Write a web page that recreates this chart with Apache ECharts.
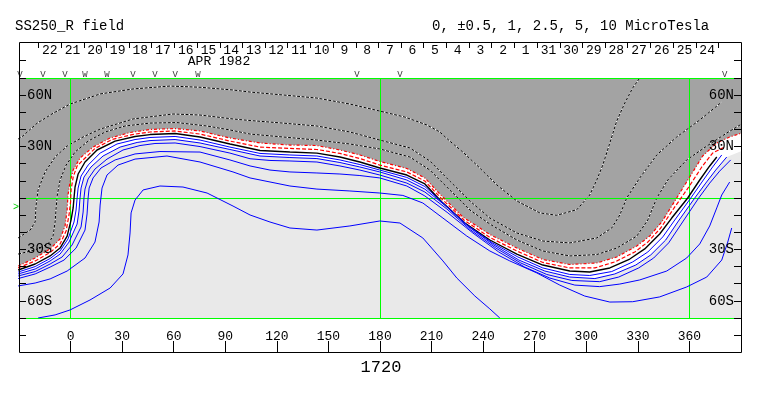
<!DOCTYPE html>
<html><head><meta charset="utf-8">
<script src="https://cdn.jsdelivr.net/npm/echarts@6/dist/echarts.min.js"></script>
<style>html,body{margin:0;padding:0;background:#fff}#c{width:763px;height:396px}</style>
</head><body><div id="c"></div>
<script>
// ---- axis / tick data ----
const lonTicks = [0,30,60,90,120,150,180,210,240,270,300,330,360];
const latTicks = [-70,-60,-50,-40,-30,-20,-10,0,10,20,30,40,50,60,70];
const latLabelVals = [60,30,-30,-60];
const guideLon = [0,180,360];
const guideLat = [-70,0,70];
const dayTickLon = [-18.7,-5.5,7.7,20.8,34.0,47.2,60.4,73.6,86.8,100.0,113.1,126.3,139.5,152.7,165.9,179.1,192.3,205.4,218.6,231.8,245.0,258.2,271.4,284.6,297.7,310.9,324.1,337.3,350.5,363.7,376.9];
const dayLabels = ['22','21','20','19','18','17','16','15','14','13','12','11','10','9','8','7','6','5','4','3','2','1','31','30','29','28','27','26','25','24'];
const markerLon = [-29.4,-16.0,-3.2,8.4,21.2,36.3,49.1,60.8,74.1,166.6,191.6,380.5];
const markerText = ['V','V','V','W','W','V','V','V','W','V','V','V'];
const markerLat = 71.8;

// ---- contour lines [lon, lat] ----
const negEdge = [[-30.5,-39.7],[-20.6,-35.0],[-11.9,-29.7],[-6.1,-23.9],[-3.2,-16.3],[-2.0,-7.0],[-1.5,1.75],[-0.3,9.3],[1.5,16.3],[5.5,23.3],[13.1,29.7],[23.0,35.0],[34.6,38.2],[46.2,40.0],[60.8,40.5],[75.3,39.1],[92.7,35.0],[110.2,32.1],[127.6,30.9],[143.3,30.6],[156.7,28.0],[168.3,25.1],[179.9,21.3],[195.6,17.2],[206.1,11.7],[214.8,2.3],[228.2,-11.1],[243.9,-21.3],[259.6,-29.2],[274.7,-35.9],[290.4,-38.8],[306.1,-37.9],[317.7,-34.4],[329.4,-28.0],[336.9,-22.2],[343.9,-14.0],[352.6,0],[360.2,12.3],[367.7,24.5],[375.9,32.1],[383.4,35.6],[390.4,37.9]];
const posHalf = [[-30.5,-40.8],[-20.6,-36.7],[-11.9,-31.8],[-6.1,-26.8],[-2.6,-19.2],[-0.9,-9.9],[0,-2.3],[0.3,4.7],[1.5,12.2],[3.8,18.7],[7.3,22.2],[14.2,28.9],[24.1,34.1],[35.8,37.0],[46.2,38.5],[60.8,39.1],[75.3,37.3],[92.7,33.2],[110.2,29.7],[127.6,28.9],[143.3,28.3],[156.7,26.0],[168.3,23.0],[179.9,19.2],[195.6,15.2],[206.1,9.9],[215.4,0],[228.8,-12.8],[243.9,-23.0],[259.6,-30.9],[274.7,-37.6],[290.4,-40.8],[305.0,-40.8],[316.6,-37.3],[328.2,-31.5],[335.8,-25.7],[343.3,-17.5],[351.5,-5.2],[359.6,6.4],[367.2,18.1],[373.5,26.2],[379.9,29.5]];
const zeroLine = [[-30.5,-42.0],[-20.6,-38.5],[-11.9,-33.8],[-6.1,-29.2],[-2.0,-22.2],[0.3,-12.8],[1.5,-5.8],[2.0,0],[2.6,6.4],[4.4,14.0],[8.4,21.0],[15.4,28.0],[25.9,33.2],[37.5,35.9],[46.2,37.0],[60.8,37.6],[75.3,35.6],[92.7,31.5],[110.2,27.7],[127.6,26.8],[143.3,26.2],[156.7,23.9],[168.3,21.0],[179.9,17.5],[195.6,13.4],[206.1,8.2],[216.0,-2.3],[229.4,-14.6],[243.9,-24.5],[259.6,-32.7],[274.7,-39.1],[290.4,-42.6],[302.0,-43.2],[313.7,-40.8],[325.3,-35.6],[334.0,-29.7],[342.7,-21.0],[349.7,-11.7],[359.0,0],[366.0,10.5],[371.8,18.7],[375.9,23.9]];
const pos1 = [[-30.5,-43.2],[-20.6,-40.0],[-11.9,-35.3],[-6.1,-30.9],[-1.5,-23.9],[2.0,-14.0],[3.2,-7.0],[3.8,0],[4.4,5.8],[6.1,12.8],[10.2,19.2],[17.2,26.2],[27.0,31.5],[37.5,34.1],[46.2,35.3],[60.8,35.9],[75.3,33.8],[92.7,29.7],[110.2,26.0],[127.6,25.1],[143.3,24.5],[156.7,22.2],[168.3,19.5],[179.9,16.3],[195.6,12.0],[206.1,6.7],[217.2,-3.5],[230.5,-15.7],[245.1,-26.0],[260.2,-34.4],[274.7,-40.8],[290.4,-44.6],[302.0,-45.2],[314.8,-42.9],[327.0,-37.3],[335.8,-31.5],[344.5,-22.7],[351.5,-12.8],[360.8,0],[367.7,9.9],[373.5,18.1],[378.8,25.1]];
const pos2 = [[-30.5,-44.3],[-20.6,-41.4],[-11.9,-36.7],[-6.1,-32.7],[-0.9,-25.7],[3.8,-15.2],[4.9,-7.6],[5.5,0],[6.1,5.8],[7.8,12.2],[11.9,18.1],[18.9,24.5],[28.8,29.7],[38.7,32.4],[46.2,33.5],[60.8,34.1],[75.3,32.1],[92.7,28.3],[110.2,24.5],[127.6,23.6],[143.3,23.0],[156.7,20.7],[168.3,18.1],[179.9,15.2],[195.6,10.5],[206.1,5.2],[218.3,-4.7],[231.7,-16.9],[246.2,-27.4],[260.8,-36.2],[275.9,-42.6],[290.4,-46.1],[305.0,-47.0],[316.6,-44.3],[328.8,-39.1],[337.5,-33.2],[346.2,-24.5],[353.2,-14.0],[363.1,0],[369.5,8.7],[375.3,16.3],[381.7,23.9]];
const pos3 = [[-30.5,-45.5],[-20.6,-42.9],[-11.9,-38.5],[-4.9,-34.4],[0.9,-27.4],[6.1,-16.9],[7.3,-8.2],[7.8,0],[8.4,5.2],[10.2,11.1],[14.2,16.9],[21.2,22.7],[30.5,28.0],[40.4,30.6],[49.1,31.8],[60.8,32.1],[75.3,30.0],[92.7,26.2],[104.4,22.9],[116.0,21.9],[127.6,21.6],[143.3,21.0],[156.7,18.7],[168.3,16.3],[179.9,13.4],[195.6,8.7],[206.1,3.5],[218.9,-6.4],[232.8,-18.7],[247.4,-29.2],[261.9,-37.9],[277.0,-44.6],[291.6,-48.1],[307.8,-48.8],[318.9,-46.1],[330.5,-40.8],[339.2,-35.0],[347.9,-26.2],[354.9,-15.7],[365.4,0],[371.8,8.7],[377.6,15.7],[384.0,22.2]];
const pos4 = [[-30.5,-47.0],[-20.6,-44.3],[-11.9,-40.3],[-3.8,-36.2],[3.2,-29.2],[8.4,-18.7],[9.6,-9.3],[10.2,0],[10.8,5.8],[13.1,11.7],[17.7,17.5],[25.9,22.2],[37.5,25.7],[52.0,27.1],[75.3,26.8],[92.7,22.2],[104.4,18.7],[116.0,16.3],[127.6,15.2],[143.3,14.6],[156.7,14.0],[168.3,13.1],[179.9,11.7],[195.6,7.0],[206.1,1.2],[219.5,-8.7],[234.0,-20.4],[249.1,-31.5],[264.2,-40.3],[278.8,-46.7],[293.3,-50.8],[307.8,-51.7],[319.5,-50.2],[331.1,-47.8],[346.8,-42.6],[358.4,-35.0],[366.0,-26.8],[371.8,-16.3],[375.9,-5.8],[378.8,1.75],[383.4,9.3]];
const pos5 = [[-30.5,-51.3],[-20.6,-49.6],[-11.9,-47.2],[-2.0,-42.6],[8.4,-35.0],[14.2,-25.7],[16.6,-14.0],[17.2,-4.1],[18.3,5.8],[21.2,13.4],[27.6,19.2],[37.5,22.7],[56.1,24.5],[75.3,21.0],[94.5,15.2],[104.4,11.7],[127.6,7.0],[143.3,5.2],[162.5,4.1],[179.9,2.9],[193.3,1.5],[204.9,-2.9],[216.6,-11.7],[230.5,-22.2],[243.9,-30.9],[255.5,-36.7],[271.2,-43.7],[284.6,-50.8],[299.1,-57.2],[313.7,-60.7],[327.0,-60.5],[342.7,-57.7],[358.4,-51.9],[370.1,-46.1],[378.8,-36.2],[382.3,-25.7],[384.6,-17.5]];
const pos6 = [[-18.9,-70],[-9.0,-68.2],[-0.3,-65.3],[11.3,-59.5],[23.0,-52.5],[30.5,-44.3],[33.4,-33.2],[34.6,-20.4],[35.2,-8.7],[37.5,-1.2],[42.2,4.7],[52.0,7.0],[65.4,6.4],[79.4,2.9],[94.5,-4.7],[104.4,-9.9],[116.0,-14.0],[127.6,-17.5],[143.3,-18.7],[162.5,-16.3],[179.9,-13.4],[191.6,-14.6],[204.9,-23.3],[216.6,-36.7],[224.7,-46.7],[235.2,-57.2],[243.9,-64.7],[249.7,-70]];
const neg1 = [[-30.5,34.4],[-28.2,35.8],[-19.5,43.6],[-10.2,49.4],[-0.3,54.8],[17.2,60.7],[36.3,63.6],[57.8,65.3],[75.3,64.6],[94.5,63.0],[104.4,61.8],[123.5,60.1],[143.3,58.3],[162.5,54.8],[179.9,50.7],[194.5,47.2],[207.3,42.6],[214.8,38.5],[220.6,33.2],[228.2,26.8],[236.3,19.2],[248.0,7.6],[259.6,-1.75],[273.0,-8.7],[282.8,-10.1],[294.5,-6.8],[302.0,1.75],[306.1,10.5],[309.6,19.2],[313.7,32.1],[317.7,44.9],[322.4,55.4],[327.0,64.2],[331.1,70]];
const neg2 = [[-30.5,-23.3],[-23.5,-18.7],[-20.6,-14.0],[-20.1,-4.7],[-18.9,4.7],[-14.8,15.2],[-9.0,23.9],[-2.0,30.3],[7.3,35.6],[17.2,40.2],[27.0,43.2],[36.3,46.1],[59.6,49.0],[75.3,48.4],[94.5,46.1],[104.4,45.2],[123.5,43.7],[143.3,42.0],[162.5,38.5],[179.9,33.8],[197.4,29.2],[209.0,21.6],[220.6,9.9],[232.3,-1.75],[243.9,-11.7],[259.6,-20.4],[274.7,-25.1],[290.4,-26.2],[306.1,-23.3],[314.8,-17.5],[319.5,-9.9],[323.5,0],[331.1,11.7],[341.0,25.1],[352.6,35.6],[366.0,45.5],[378.8,56.0]];
const neg3 = [[-30.5,-32.7],[-20.6,-30.3],[-13.1,-26.8],[-10.2,-22.2],[-9.0,-14.0],[-8.4,-5.8],[-7.8,1.2],[-6.1,10.5],[-2.6,19.2],[2.6,26.8],[10.2,33.2],[20.1,38.5],[31.7,42.0],[46.2,43.7],[61.9,44.0],[79.4,42.0],[92.7,39.7],[104.4,37.3],[123.5,35.6],[143.3,33.8],[162.5,31.5],[179.9,28.6],[197.4,23.9],[209.0,16.3],[220.6,4.7],[232.3,-7.0],[243.9,-15.2],[259.6,-24.5],[274.7,-30.9],[290.4,-33.8],[306.1,-33.0],[317.7,-29.2],[329.4,-22.2],[335.8,-12.8],[341.0,0],[347.4,10.5],[358.4,22.2],[370.1,30.3],[381.7,37.9],[390.4,43.2]];
const lightEdge = [[-30.5,-44.3],[-20.6,-41.4],[-11.9,-36.7],[-6.1,-32.7],[-0.9,-25.7],[3.8,-15.2],[4.9,-7.6],[5.5,0],[6.1,5.8],[7.8,12.2],[11.9,18.1],[18.9,24.5],[28.8,29.7],[38.7,32.4],[46.2,33.5],[60.8,34.1],[75.3,32.1],[92.7,28.3],[110.2,24.5],[127.6,23.6],[143.3,23.0],[156.7,20.7],[168.3,18.1],[179.9,15.2],[195.6,10.5],[206.1,5.2],[218.3,-4.7],[231.7,-16.9],[246.2,-27.4],[260.8,-36.2],[275.9,-42.6],[290.4,-46.1],[305.0,-47.0],[316.6,-44.3],[328.8,-39.1],[337.5,-33.2],[346.2,-24.5],[353.2,-14.0],[363.1,0],[369.5,8.7],[375.3,16.3],[381.7,23.9],[390.4,27.4]];

const mono = '"Liberation Mono","DejaVu Sans Mono",monospace';
const dayMid = dayLabels.map((d,i)=>(dayTickLon[i]+dayTickLon[i+1])/2);

function ln(data, color, width, type, z){
  return {type:'line', data, symbol:'none', showSymbol:false, smooth:false, silent:true,
    lineStyle:{color, width, type}, z: z||3, animation:false};
}
function fill(data, color){
  return {type:'line', data, symbol:'none', showSymbol:false, silent:true, animation:false,
    lineStyle:{opacity:0, width:0}, areaStyle:{color, opacity:1, origin:'end'}, z:1};
}

const series = [
  fill(lightEdge, '#ffffff'),
  fill(negEdge, '#a3a3a3'),
  {type:'line', data:[], silent:true, z:2, animation:false,
    markLine:{silent:true, symbol:['none','none'], animation:false, label:{show:false},
      lineStyle:{color:'#00ff00', type:'solid', width:1},
      data: guideLon.map(v=>({xAxis:v})).concat(guideLat.map(v=>({yAxis:v})))}},
];
[neg1, neg2, neg3].forEach(d=>{
  series.push(ln(d,'#ffffff',1,'solid',3));
  series.push(ln(d,'#000000',1,[3,1.5],4));
});
series.push(ln(negEdge,'#ff0000',1.2,[3,2,1,2],5));
series.push(ln(posHalf,'#ff0000',1.2,[4,2],5));
series.push(ln(zeroLine,'#000000',1.4,'solid',5));
[pos1,pos2,pos3,pos4,pos5,pos6].forEach(d=>series.push(ln(d,'#0000ff',1,'solid',5)));
series.push({type:'scatter', clip:false, silent:true, animation:false, z:6,
  symbol:'circle', symbolSize:1, itemStyle:{color:'rgba(0,0,0,0)'},
  data: markerLon.map((v,i)=>[v, markerLat, markerText[i]]),
  label:{show:true, position:'inside', formatter:p=>p.data[2], color:'#000', fontFamily:mono, fontSize:9}});

const latFmt = v=> v>0 ? v+'N' : (-v)+'S';
const option = {
  animation:false,
  backgroundColor:'#ffffff',
  grid:{left:19, right:22, top:78, bottom:78, show:true, backgroundColor:'#e9e9e9', borderWidth:0},
  xAxis:[
    {type:'value', min:-30, max:390, show:false, axisLine:{onZero:false}},
    {type:'value', min:-30, max:390, position:'bottom', offset:34, z:20,
      axisLine:{show:false, onZero:false}, splitLine:{show:false},
      axisTick:{show:true, inside:true, length:11, customValues:lonTicks, lineStyle:{color:'#000'}},
      axisLabel:{show:true, inside:true, margin:9, customValues:lonTicks, color:'#000', fontFamily:mono, fontSize:13}},
    {type:'value', min:-30, max:390, position:'top', offset:36, z:20,
      axisLine:{show:false, onZero:false}, splitLine:{show:false},
      axisTick:{show:true, inside:true, length:6, customValues:dayTickLon, lineStyle:{color:'#000'}},
      axisLabel:{show:true, inside:true, margin:2, customValues:dayMid, color:'#000', fontFamily:mono, fontSize:13,
        formatter:(v)=>{let b=0,bd=1e9;dayMid.forEach((m,i)=>{const d=Math.abs(m-v);if(d<bd){bd=d;b=i;}});return dayLabels[b];}}}
  ],
  yAxis:[
    {type:'value', min:-70, max:70, interval:10, position:'left', z:20,
      axisLine:{show:false, onZero:false}, splitLine:{show:false},
      axisTick:{show:true, inside:true, length:7, customValues:latTicks, lineStyle:{color:'#000'}},
      axisLabel:{show:true, inside:true, margin:8, customValues:latLabelVals, color:'#000', fontFamily:mono, fontSize:14, formatter:latFmt}},
    {type:'value', min:-70, max:70, interval:10, position:'right', z:20,
      axisLine:{show:false, onZero:false}, splitLine:{show:false},
      axisTick:{show:true, inside:true, length:7, customValues:latTicks, lineStyle:{color:'#000'}},
      axisLabel:{show:true, inside:true, margin:7, customValues:latLabelVals, color:'#000', fontFamily:mono, fontSize:14, formatter:latFmt}}
  ],
  graphic:[
    {type:'rect', shape:{x:19.5, y:42.5, width:722, height:310}, style:{fill:null, stroke:'#000', lineWidth:1}, z:50, silent:true},
    {type:'line', shape:{x1:19, y1:60.5, x2:26, y2:60.5}, style:{stroke:'#000', lineWidth:1}, z:50},
    {type:'line', shape:{x1:734, y1:60.5, x2:741, y2:60.5}, style:{stroke:'#000', lineWidth:1}, z:50},
    {type:'line', shape:{x1:19, y1:335.5, x2:26, y2:335.5}, style:{stroke:'#000', lineWidth:1}, z:50},
    {type:'line', shape:{x1:734, y1:335.5, x2:741, y2:335.5}, style:{stroke:'#000', lineWidth:1}, z:50},
    {type:'text', left:15, top:19, style:{text:'SS250_R field', font:'14px '+mono, fill:'#000'}, z:50},
    {type:'text', left:432, top:19, style:{text:'0, \u00b10.5, 1, 2.5, 5, 10 MicroTesla', font:'14px '+mono, fill:'#000'}, z:50},
    {type:'text', x:219, y:62, style:{text:'APR 1982', font:'13px '+mono, fill:'#000', align:'center', verticalAlign:'middle'}, z:50},
    {type:'text', x:381, y:367, style:{text:'1720', font:'17px '+mono, fill:'#000', align:'center', verticalAlign:'middle'}, z:50},
    {type:'text', x:16, y:207, style:{text:'>', font:'10px '+mono, fill:'#00cc00', align:'center', verticalAlign:'middle'}, z:50}
  ],
  series
};
const chart = echarts.init(document.getElementById('c'), null, {renderer:'canvas'});
chart.setOption(option);
</script></body></html>
